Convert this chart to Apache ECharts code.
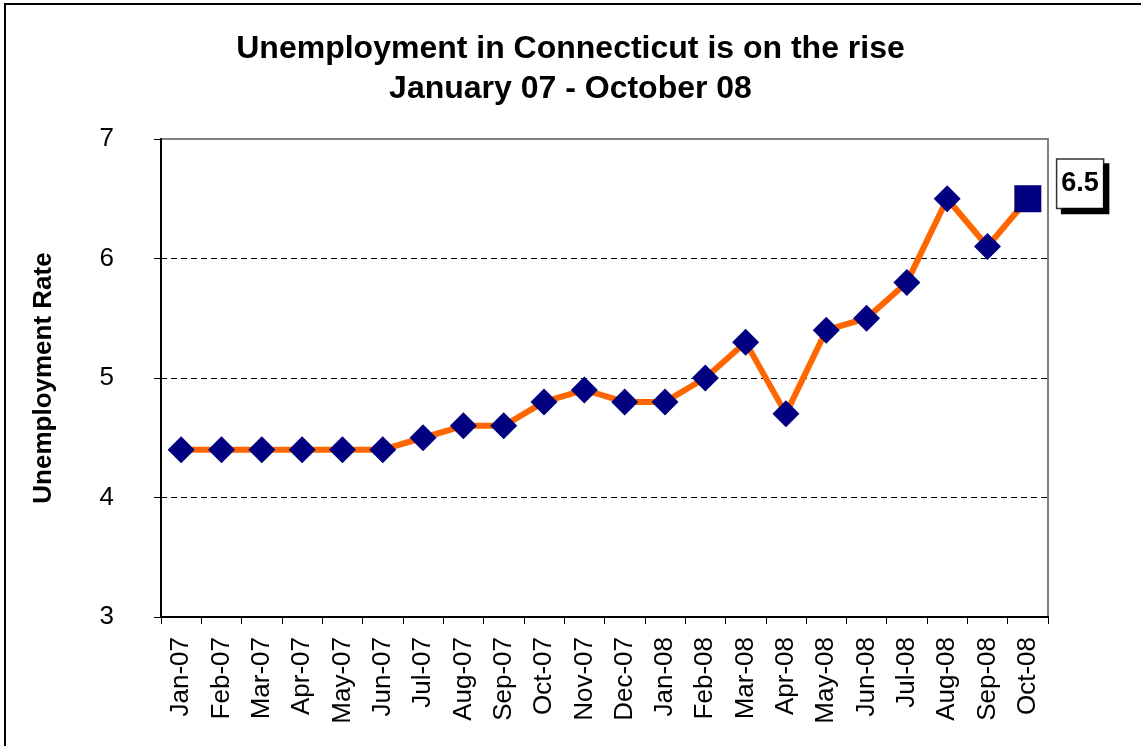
<!DOCTYPE html>
<html>
<head>
<meta charset="utf-8">
<script src="https://cdn.jsdelivr.net/npm/echarts@6/dist/echarts.min.js"></script>
<style>
  body { margin: 0; background: #fff; }
  #chart { width: 1141px; height: 746px; }
</style>
</head>
<body>
<div id="chart"></div>
<script>
// 数据
const months = ["Jan-07", "Feb-07", "Mar-07", "Apr-07", "May-07", "Jun-07", "Jul-07", "Aug-07",
  "Sep-07", "Oct-07", "Nov-07", "Dec-07", "Jan-08", "Feb-08", "Mar-08", "Apr-08",
  "May-08", "Jun-08", "Jul-08", "Aug-08", "Sep-08", "Oct-08"];
const rates = [4.4, 4.4, 4.4, 4.4, 4.4, 4.4, 4.5, 4.6, 4.6, 4.8, 4.9, 4.8,
  4.8, 5.0, 5.3, 4.7, 5.4, 5.5, 5.8, 6.5, 6.1, 6.5];
const yMin = 3, yMax = 7, yStep = 1;

const font = "Liberation Sans, Arial, sans-serif";
const last = rates.length - 1;

// last point gets a square marker and a boxed label
const seriesData = rates.map((v, i) => {
  if (i !== last) return v;
  return {
    value: v,
    symbol: "rect",
    label: {
      show: true,
      position: "right",
      distance: 16,
      offset: [0, -15],
      color: "#000",
      fontFamily: font,
      fontWeight: "bold",
      fontSize: 27,
      lineHeight: 28,
      backgroundColor: "#fff",
      borderColor: "#333",
      borderWidth: 1.5,
      padding: [10, 4, 10, 4],
      shadowColor: "#000",
      shadowBlur: 0,
      shadowOffsetX: 5,
      shadowOffsetY: 5
    }
  };
});

const chart = echarts.init(document.getElementById("chart"));
chart.setOption({
  animation: false,
  backgroundColor: "#fff",
  title: {
    text: "Unemployment in Connecticut is on the rise\nJanuary 07 - October 08",
    left: "center",
    top: 24,
    textStyle: {
      fontFamily: font,
      fontWeight: "bold",
      fontSize: 32,
      lineHeight: 40,
      color: "#000"
    }
  },
  graphic: [{
    type: "rect",
    shape: { x: 5, y: 4, width: 1200, height: 800 },
    style: { fill: "none", stroke: "#000", lineWidth: 2 },
    silent: true
  }],
  grid: {
    left: 161,
    right: 93,
    top: 139,
    bottom: 129,
    show: true,
    borderColor: "#808080",
    borderWidth: 2
  },
  xAxis: {
    type: "category",
    data: months,
    boundaryGap: true,
    axisLine: { lineStyle: { color: "#000", width: 2 } },
    axisTick: { show: true, inside: false, length: 7, lineStyle: { color: "#000", width: 1 } },
    axisLabel: {
      rotate: 90,
      margin: 20,
      interval: 0,
      color: "#000",
      fontFamily: font,
      fontSize: 26
    },
    splitLine: { show: false }
  },
  yAxis: {
    type: "value",
    min: yMin,
    max: yMax,
    interval: yStep,
    name: "Unemployment Rate",
    nameLocation: "middle",
    nameRotate: 90,
    nameGap: 104,
    nameTextStyle: {
      fontFamily: font,
      fontWeight: "bold",
      fontSize: 26,
      color: "#000"
    },
    axisLine: { show: true, lineStyle: { color: "#000", width: 2 } },
    axisTick: { show: true, inside: false, length: 7, lineStyle: { color: "#000", width: 1 } },
    axisLabel: {
      margin: 47,
      color: "#000",
      fontFamily: font,
      fontSize: 26
    },
    splitLine: {
      show: true,
      showMinLine: false,
      showMaxLine: false,
      lineStyle: { color: "#000", width: 1, type: [6, 4] }
    }
  },
  series: [{
    type: "line",
    data: seriesData,
    symbol: "diamond",
    symbolSize: 27,
    showAllSymbol: true,
    clip: false,
    lineStyle: { color: "#FF6600", width: 6 },
    itemStyle: { color: "#000080" },
    z: 3
  }]
});
</script>
</body>
</html>
